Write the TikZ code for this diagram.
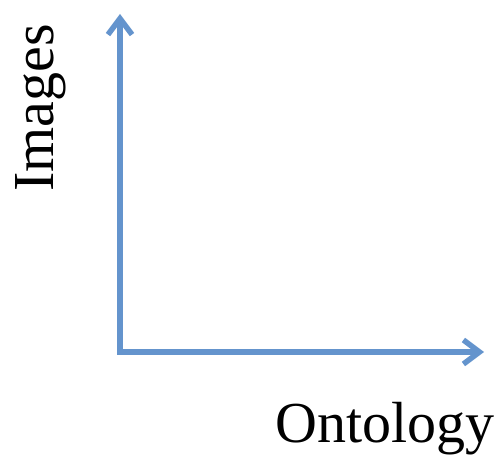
\documentclass[tikz,border=0pt]{standalone}
\usepackage{fontspec}
\setmainfont{Liberation Serif}
\usetikzlibrary{arrows.meta}
\definecolor{axisblue}{RGB}{100,148,205}
\tikzset{
  axis/.style={draw=axisblue, line width=5.5pt, line cap=butt, line join=miter,
    -{Straight Barb[length=16pt,width=24pt,line width=5.5pt]}},
  label/.style={font=\fontsize{58}{64}\selectfont, text=black, inner sep=0pt}
}
\begin{document}
\begin{tikzpicture}[x=1pt,y=-1pt]
\useasboundingbox (0,0) rectangle (499,457);
\coordinate (origin) at (120,352);
\coordinate (ytip) at (120,14);
\coordinate (xtip) at (484,352);
\draw[axis] ([yshift=-2.75pt]origin) -- (ytip);
\draw[axis] ([xshift=-2.75pt]origin) -- (xtip);
\node[label, anchor=base west] (xlab) at (275,443) {Ontology};
\node[label, anchor=base, rotate=90] (ylab) at (53,108) {Images};
\end{tikzpicture}
\end{document}
